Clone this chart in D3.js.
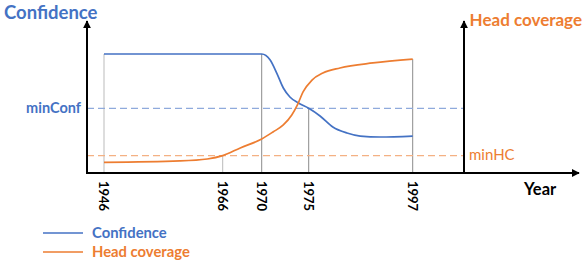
<!DOCTYPE html>
<html lang="en">
<head>
<meta charset="UTF-8">
<title>Confidence vs head coverage</title>
<script src="https://cdn.jsdelivr.net/npm/d3@7"></script>
<style>
  body { margin: 0; background: #fff; }
  text { font-family: Lato, "Open Sans", sans-serif; }
</style>
</head>
<body>
<div id="container"></div>
<script>
    const width = 584;
    const height = 263;

    // data
    const years = [1946, 1966, 1970, 1975, 1997];
    const confidence = [
        { year: 1946, value: 0.85 }, { year: 1970, value: 0.85 },
        { year: 1970.9, value: 0.807 }, { year: 1971.6, value: 0.714 },
        { year: 1972.3, value: 0.607 }, { year: 1973.0, value: 0.543 },
        { year: 1973.9, value: 0.50 }, { year: 1975, value: 0.462 },
        { year: 1977.4, value: 0.407 }, { year: 1980.1, value: 0.329 },
        { year: 1983.1, value: 0.286 }, { year: 1985.9, value: 0.264 },
        { year: 1990.1, value: 0.257 }, { year: 1997, value: 0.264 }
    ];
    const headCoverage = [
        { year: 1946, value: 0.076 }, { year: 1958.8, value: 0.086 },
        { year: 1963.4, value: 0.10 }, { year: 1966, value: 0.124 },
        { year: 1967.8, value: 0.179 }, { year: 1970, value: 0.243 },
        { year: 1971.2, value: 0.293 }, { year: 1972.3, value: 0.343 },
        { year: 1973.2, value: 0.414 }, { year: 1973.8, value: 0.486 },
        { year: 1974.4, value: 0.579 }, { year: 1975.7, value: 0.664 },
        { year: 1978.0, value: 0.714 }, { year: 1981.6, value: 0.75 },
        { year: 1988.6, value: 0.786 }, { year: 1997, value: 0.814 }
    ];
    const dropTops = [0.85, 0.124, 0.85, 0.462, 0.814];
    const minConf = 0.462;
    const minHC = 0.124;

    const blue = '#4472c4', orange = '#ed7d31';

    // layout
    const left = 87, right = 464, bottom = 173;
    const tickX = [104, 222.7, 261.7, 308.7, 412.7];

    const x = d3.scaleLinear().domain(years).range(tickX);
    const y = d3.scaleLinear().domain([0, 1]).range([bottom, 33]);

    const svg = d3.select('#container').append('svg')
        .attr('width', width)
        .attr('height', height);

    svg.append('defs').append('marker')
        .attr('id', 'arrow')
        .attr('viewBox', '0 0 10 10')
        .attr('refX', 9).attr('refY', 5)
        .attr('markerWidth', 4).attr('markerHeight', 4)
        .attr('orient', 'auto')
        .append('path')
        .attr('d', 'M0,0L10,5L0,10Z')
        .attr('fill', '#000');

    // drop lines
    svg.append('g').selectAll('line')
        .data(years)
        .join('line')
        .attr('x1', d => x(d)).attr('x2', d => x(d))
        .attr('y1', (d, i) => y(dropTops[i])).attr('y2', bottom)
        .attr('stroke', (d, i) => i === 0 || i === 1 ? '#bbb' : '#8c8c8c')
        .attr('stroke-width', 1);

    // threshold lines
    svg.append('line')
        .attr('x1', left).attr('x2', right)
        .attr('y1', y(minConf)).attr('y2', y(minConf))
        .attr('stroke', '#8faadc').attr('stroke-width', 1.2)
        .attr('stroke-dasharray', '7,4');
    svg.append('line')
        .attr('x1', left).attr('x2', right)
        .attr('y1', y(minHC)).attr('y2', y(minHC))
        .attr('stroke', '#f4b183').attr('stroke-width', 1.2)
        .attr('stroke-dasharray', '7,4');

    const line = d3.line()
        .x(d => x(d.year))
        .y(d => y(d.value))
        .curve(d3.curveMonotoneX);

    svg.append('path').datum(confidence)
        .attr('d', line).attr('fill', 'none')
        .attr('stroke', blue).attr('stroke-width', 1.7);
    svg.append('path').datum(headCoverage)
        .attr('d', line).attr('fill', 'none')
        .attr('stroke', orange).attr('stroke-width', 1.7);

    // axes
    const axes = svg.append('g').attr('stroke', '#000').attr('stroke-width', 2);
    axes.append('line').attr('x1', left).attr('x2', left).attr('y1', bottom + 1).attr('y2', 21)
        .attr('marker-end', 'url(#arrow)');
    axes.append('line').attr('x1', right).attr('x2', right).attr('y1', bottom).attr('y2', 21)
        .attr('marker-end', 'url(#arrow)');
    axes.append('line').attr('x1', left - 1).attr('x2', 579).attr('y1', bottom).attr('y2', bottom)
        .attr('marker-end', 'url(#arrow)');

    // tick labels
    svg.append('g').selectAll('text')
        .data(years)
        .join('text')
        .attr('transform', d => `translate(${x(d)},181) rotate(90)`)
        .attr('dy', '0.35em')
        .attr('font-size', 13)
        .attr('font-weight', 'bold')
        .attr('fill', '#000')
        .text(d => d);

    // axis titles
    svg.append('text').attr('x', 4).attr('y', 19)
        .attr('font-size', 18.5).attr('font-weight', 'bold').attr('fill', blue)
        .text('Confidence');
    svg.append('text').attr('x', 582).attr('y', 26).attr('text-anchor', 'end')
        .attr('font-size', 17).attr('font-weight', 'bold').attr('fill', orange)
        .text('Head coverage');
    svg.append('text').attr('x', 524).attr('y', 195)
        .attr('font-size', 16.5).attr('font-weight', 'bold').attr('fill', '#000')
        .text('Year');

    svg.append('text').attr('x', 81).attr('y', y(minConf) + 4.5).attr('text-anchor', 'end')
        .attr('font-size', 14.5).attr('font-weight', 'bold').attr('fill', blue)
        .text('minConf');
    svg.append('text').attr('x', 469).attr('y', y(minHC) + 4.5)
        .attr('font-size', 15).attr('fill', orange)
        .text('minHC');

    // legend
    const legend = svg.append('g')
        .selectAll('g')
        .data([['Confidence', blue], ['Head coverage', orange]])
        .join('g')
        .attr('transform', (d, i) => `translate(43,${233 + i * 19})`);
    legend.append('line').attr('x1', 0).attr('x2', 40)
        .attr('stroke', d => d[1]).attr('stroke-width', 1.7);
    legend.append('text').attr('x', 49).attr('y', 5)
        .attr('font-size', 14.8).attr('font-weight', 'bold').attr('fill', d => d[1])
        .text(d => d[0]);
</script>
</body>
</html>
